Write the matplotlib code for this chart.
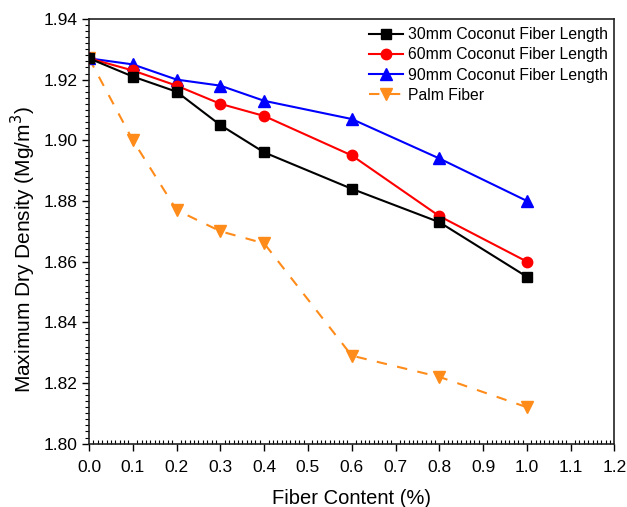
import matplotlib
matplotlib.use("Agg")
import matplotlib.pyplot as plt
from matplotlib.ticker import MultipleLocator, FormatStrFormatter

plt.rcParams['font.family'] = ['Liberation Sans', 'DejaVu Sans']

fiber = [0.0, 0.1, 0.2, 0.3, 0.4, 0.6, 0.8, 1.0]
mm30 = [1.927, 1.921, 1.916, 1.905, 1.896, 1.884, 1.873, 1.855]
mm60 = [1.927, 1.923, 1.918, 1.912, 1.908, 1.895, 1.875, 1.860]
mm90 = [1.927, 1.925, 1.920, 1.918, 1.913, 1.907, 1.894, 1.880]
palm = [1.927, 1.900, 1.877, 1.870, 1.866, 1.829, 1.822, 1.812]

fig = plt.figure(figsize=(6.27, 5.07), dpi=100)
ax = fig.add_axes([0.142, 0.125, 0.838, 0.8377])

ax.plot(fiber, mm30, color='black', marker='s', markersize=7, lw=1.5,
        label='30mm Coconut Fiber Length', zorder=4)
ax.plot(fiber, mm60, color='red', marker='o', markersize=7.5, lw=1.5,
        label='60mm Coconut Fiber Length', zorder=3)
ax.plot(fiber, mm90, color='blue', marker='^', markersize=8.5, lw=1.5,
        label='90mm Coconut Fiber Length', zorder=2)
ax.plot(fiber, palm, color='#FF8C1A', marker='v', markersize=8.5, lw=1.5,
        ls=(0, (5, 5)), label='Palm Fiber', zorder=1)

ax.set_xlim(0.0, 1.2)
ax.set_ylim(1.80, 1.94)
ax.xaxis.set_major_locator(MultipleLocator(0.1))
ax.xaxis.set_minor_locator(MultipleLocator(0.01))
ax.yaxis.set_major_locator(MultipleLocator(0.02))
ax.yaxis.set_minor_locator(MultipleLocator(0.002))
ax.xaxis.set_major_formatter(FormatStrFormatter('%.1f'))
ax.yaxis.set_major_formatter(FormatStrFormatter('%.2f'))

ax.tick_params(axis='both', which='major', direction='out', length=5, width=1, labelsize=12.5)
ax.tick_params(axis='x', which='major', pad=7)
ax.tick_params(axis='x', which='minor', direction='in', length=3, width=0.8)
ax.tick_params(axis='y', which='minor', direction='out', length=3, width=0.8)
for s in ax.spines.values():
    s.set_linewidth(1.2)
    s.set_color('#222222')

ax.set_xlabel('Fiber Content (%)', fontsize=14.5, labelpad=10)
ax.set_ylabel('Maximum Dry Density (Mg/m$^3$)', fontsize=15)
ax.yaxis.set_label_coords(-0.097, 0.456)

ax.legend(loc='upper right', frameon=False, fontsize=11.3, handlelength=2.2,
          handletextpad=0.3, labelspacing=0.33, borderaxespad=0.0,
          bbox_to_anchor=(1.0, 0.995))

fig.savefig('out.png', dpi=100)
